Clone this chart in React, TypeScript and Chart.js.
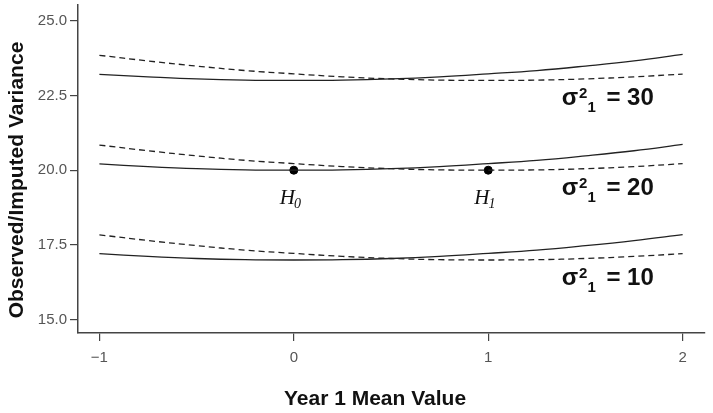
import React, { useEffect, useRef } from "react";
import { Chart, registerables } from "chart.js";

Chart.register(...registerables);

// ---- data ----
const xValues = [-1, -0.75, -0.5, -0.25, 0, 0.25, 0.5, 0.75, 1, 1.25, 1.5, 1.75, 2];

const solid10 = [17.21, 17.12, 17.05, 17.01, 17.0, 17.01, 17.05, 17.12, 17.22, 17.33, 17.48, 17.65, 17.85];
const dashed10 = [17.84, 17.65, 17.48, 17.33, 17.22, 17.12, 17.05, 17.01, 17.0, 17.01, 17.05, 17.12, 17.21];

const solid20 = [20.21, 20.12, 20.05, 20.01, 20.0, 20.01, 20.05, 20.12, 20.22, 20.33, 20.48, 20.65, 20.86];
const dashed20 = [20.84, 20.65, 20.48, 20.33, 20.22, 20.12, 20.05, 20.01, 20.0, 20.01, 20.05, 20.12, 20.22];

const solid30 = [23.2, 23.12, 23.05, 23.01, 23.0, 23.01, 23.05, 23.12, 23.22, 23.33, 23.48, 23.65, 23.87];
const dashed30 = [23.84, 23.65, 23.48, 23.33, 23.22, 23.12, 23.05, 23.01, 23.0, 23.01, 23.05, 23.12, 23.21];

const hypothesisX = [0, 1];
const hypothesisY = [20, 20];
const hypothesisSubs = ["0", "1"];

const sigmaValues = ["30", "20", "10"];
const sigmaLevels = [23, 20, 17];

const xTicks = [-1, 0, 1, 2];
const yTicks = [15, 17.5, 20, 22.5, 25];

const xTitle = "Year 1 Mean Value";
const yTitle = "Observed/Imputed Variance";

const LINE = "#222222";

const toPoints = (ys: number[]) => xValues.map((x, i) => ({ x, y: ys[i] }));

const annotationPlugin = {
  id: "annotations",
  afterDraw(chart: any) {
    const ctx = chart.ctx as CanvasRenderingContext2D;
    const xs = chart.scales.x;
    const ys = chart.scales.y;
    ctx.save();
    ctx.fillStyle = "#111";

    // axis titles
    ctx.font = 'bold 21px "Liberation Sans", Arial, sans-serif';
    ctx.textAlign = "center";
    ctx.textBaseline = "alphabetic";
    ctx.fillText(xTitle, 375, 405);

    ctx.save();
    ctx.translate(17, 180);
    ctx.rotate(-Math.PI / 2);
    ctx.textBaseline = "middle";
    ctx.fillText(yTitle, 0, 0);
    ctx.restore();

    // H labels
    ctx.textAlign = "left";
    ctx.textBaseline = "alphabetic";
    hypothesisX.forEach((hx, i) => {
      const px = xs.getPixelForValue(hx);
      const py = ys.getPixelForValue(hypothesisY[i]);
      ctx.font = 'italic 21px "Liberation Serif", "Times New Roman", serif';
      const x0 = px - 14;
      const base = py + 34;
      ctx.fillText("H", x0, base);
      const w = ctx.measureText("H").width;
      ctx.font = 'italic 14px "Liberation Serif", "Times New Roman", serif';
      ctx.fillText(hypothesisSubs[i], x0 + w - 1, base + 4);
    });

    // sigma labels
    sigmaLevels.forEach((lvl, i) => {
      const base = ys.getPixelForValue(lvl) + 25;
      let x = xs.getPixelForValue(2) - 121;
      ctx.font = 'bold 24px "Liberation Sans", Arial, sans-serif';
      ctx.fillText("σ", x, base);
      x += ctx.measureText("σ").width + 1;
      ctx.font = 'bold 15px "Liberation Sans", Arial, sans-serif';
      ctx.fillText("2", x, base - 7);
      const w2 = ctx.measureText("2").width;
      ctx.fillText("1", x + w2, base + 7);
      x += w2 * 2 + 4;
      ctx.font = 'bold 24px "Liberation Sans", Arial, sans-serif';
      ctx.fillText(" = " + sigmaValues[i], x, base);
    });

    ctx.restore();
  },
};

export default function App() {
  const canvasRef = useRef<HTMLCanvasElement | null>(null);

  useEffect(() => {
    if (!canvasRef.current) return;
    const lineDs = (ys: number[], dashed: boolean) => ({
      data: toPoints(ys),
      borderColor: LINE,
      backgroundColor: LINE,
      borderWidth: 1.3,
      borderDash: dashed ? [6, 4] : [],
      pointRadius: 0,
      tension: 0.4,
      fill: false,
    });
    const tickFont = { family: '"Liberation Sans", Arial, sans-serif', size: 15 };
    const chart = new Chart(canvasRef.current, {
      type: "line",
      data: {
        datasets: [
          lineDs(solid30, false),
          lineDs(dashed30, true),
          lineDs(solid20, false),
          lineDs(dashed20, true),
          lineDs(solid10, false),
          lineDs(dashed10, true),
          {
            data: hypothesisX.map((x, i) => ({ x, y: hypothesisY[i] })),
            showLine: false,
            pointRadius: 4,
            pointBackgroundColor: "#000",
            pointBorderColor: "#000",
            borderColor: "#000",
            backgroundColor: "#000",
          } as any,
        ],
      },
      options: {
        animation: false,
        responsive: false,
        maintainAspectRatio: false,
        layout: { padding: { top: 5, right: 8, left: 0, bottom: 0 } },
        plugins: { legend: { display: false }, tooltip: { enabled: false } },
        scales: {
          x: {
            type: "linear",
            min: -1.11,
            max: 2.115,
            afterBuildTicks: (s: any) => {
              s.ticks = xTicks.map((v) => ({ value: v }));
            },
            afterFit: (s: any) => {
              s.height = 80;
              s.paddingLeft = 0;
              s.paddingRight = 0;
            },
            ticks: {
              font: tickFont,
              color: "#555",
              padding: 8,
              callback: (v: any) => (v < 0 ? "\u2212" + Math.abs(v) : String(v)),
            },
            grid: { drawOnChartArea: false, tickLength: 8, color: "#444", lineWidth: 1.2 },
            border: { display: true, color: "#444", width: 1.5 },
          },
          y: {
            type: "linear",
            min: 14.56,
            max: 25.52,
            afterBuildTicks: (s: any) => {
              s.ticks = yTicks.map((v) => ({ value: v }));
            },
            afterFit: (s: any) => {
              s.width = 78;
              s.paddingTop = 0;
              s.paddingBottom = 0;
            },
            ticks: {
              font: tickFont,
              color: "#555",
              padding: 3,
              callback: (v: any) => Number(v).toFixed(1),
            },
            grid: { drawOnChartArea: false, tickLength: 8, color: "#444", lineWidth: 1.2 },
            border: { display: true, color: "#444", width: 1.5 },
          },
        },
      },
      plugins: [annotationPlugin],
    });
    return () => chart.destroy();
  }, []);

  return (
    <div style={{ position: "fixed", left: 0, top: 0, width: 713, height: 413, background: "#fff" }}>
      <canvas ref={canvasRef} width={713} height={413} style={{ display: "block" }} />
    </div>
  );
}
